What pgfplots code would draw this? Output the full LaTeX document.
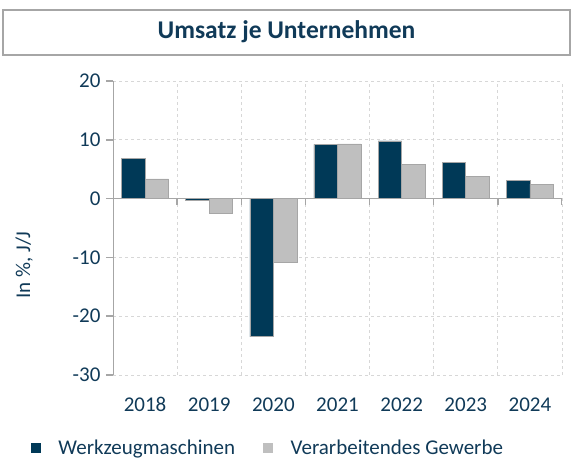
\documentclass[border=0pt]{standalone}
\usepackage{fontspec}
\setmainfont{Carlito}
\usepackage{pgfplots}
\pgfplotsset{compat=1.18}
\definecolor{navy}{RGB}{0,57,87}
\definecolor{txt}{RGB}{16,58,88}
\definecolor{barg}{RGB}{191,191,191}
\definecolor{axg}{RGB}{166,166,166}
\definecolor{gridg}{RGB}{215,215,215}
\begin{document}
\begin{tikzpicture}[x=1pt,y=1pt]
\path[use as bounding box] (0,0) rectangle (573,462);
\draw[axg, line width=1.2pt] (3,407) rectangle (570,452);
\node[txt, font=\fontsize{25.5}{30}\selectfont\bfseries] at (286.5,430) {Umsatz je Unternehmen};
\begin{axis}[at={(113pt,87pt)}, anchor=south west, scale only axis,
  width=449pt, height=294pt,
  xmin=-0.5, xmax=6.5, ymin=-30, ymax=20,
  ybar=0pt, bar width=23.5pt,
  axis line style={draw=none},
  xtick={0,1,2,3,4,5,6},
  xticklabels={2018,2019,2020,2021,2022,2023,2024},
  ytick={-30,-20,-10,0,10,20},
  /pgf/number format/assume math mode=true,
  minor xtick={-0.5,0.5,1.5,2.5,3.5,4.5,5.5,6.5},
  xminorgrids, ymajorgrids,
  grid style={gridg, dashed, line width=0.8pt},
  minor grid style={gridg, dashed, line width=0.8pt},
  major x tick style={draw=none},
  minor x tick style={draw=none},
  ytick pos=left,
  ytick style={axg, line width=1.5pt},
  tick align=outside,
  major tick length=7pt,
  tick label style={txt, font=\fontsize{21}{25}\selectfont},
  xticklabel style={yshift=-12pt},
  yticklabel style={xshift=-2pt},
  ylabel={In \%, J/J},
  ylabel style={txt, font=\fontsize{21}{25}\selectfont, at={(axis description cs:-0.198,0.374)}, anchor=center},
  legend style={at={(axis description cs:0.345,-0.248)}, anchor=center, draw=none, fill=none,
    legend columns=2, font=\fontsize{21}{25}\selectfont, text=txt,
    /tikz/every even column/.append style={column sep=26pt},
    nodes={inner sep=2pt}},
]
\addplot[fill=navy, draw=axg, line width=0.6pt,
  legend image code/.code={\fill[navy] (0pt,-4.5pt) rectangle (9pt,4.5pt);}]
  coordinates {(0,6.9) (1,-0.3) (2,-23.5) (3,9.2) (4,9.8) (5,6.15) (6,3.1)};
\addlegendentry{\hspace{16pt}Werkzeugmaschinen}
\addplot[fill=barg, draw=axg, line width=0.6pt,
  legend image code/.code={\fill[barg] (0pt,-4.5pt) rectangle (9pt,4.5pt);}]
  coordinates {(0,3.35) (1,-2.5) (2,-10.8) (3,9.3) (4,5.8) (5,3.8) (6,2.45)};
\addlegendentry{\hspace{16pt}Verarbeitendes Gewerbe}
\draw[axg, line width=1.8pt] (axis cs:-0.5,-30) -- (axis cs:-0.5,20);
\draw[axg, line width=1.8pt] (axis cs:-0.5,0) -- (axis cs:6.5,0);
\pgfplotsinvokeforeach{0.5,1.5,2.5,3.5,4.5,5.5,6.5}{
  \draw[axg, line width=1.5pt] (axis cs:#1,0) -- ++(0pt,-6pt);
}
\end{axis}
\end{tikzpicture}
\end{document}
